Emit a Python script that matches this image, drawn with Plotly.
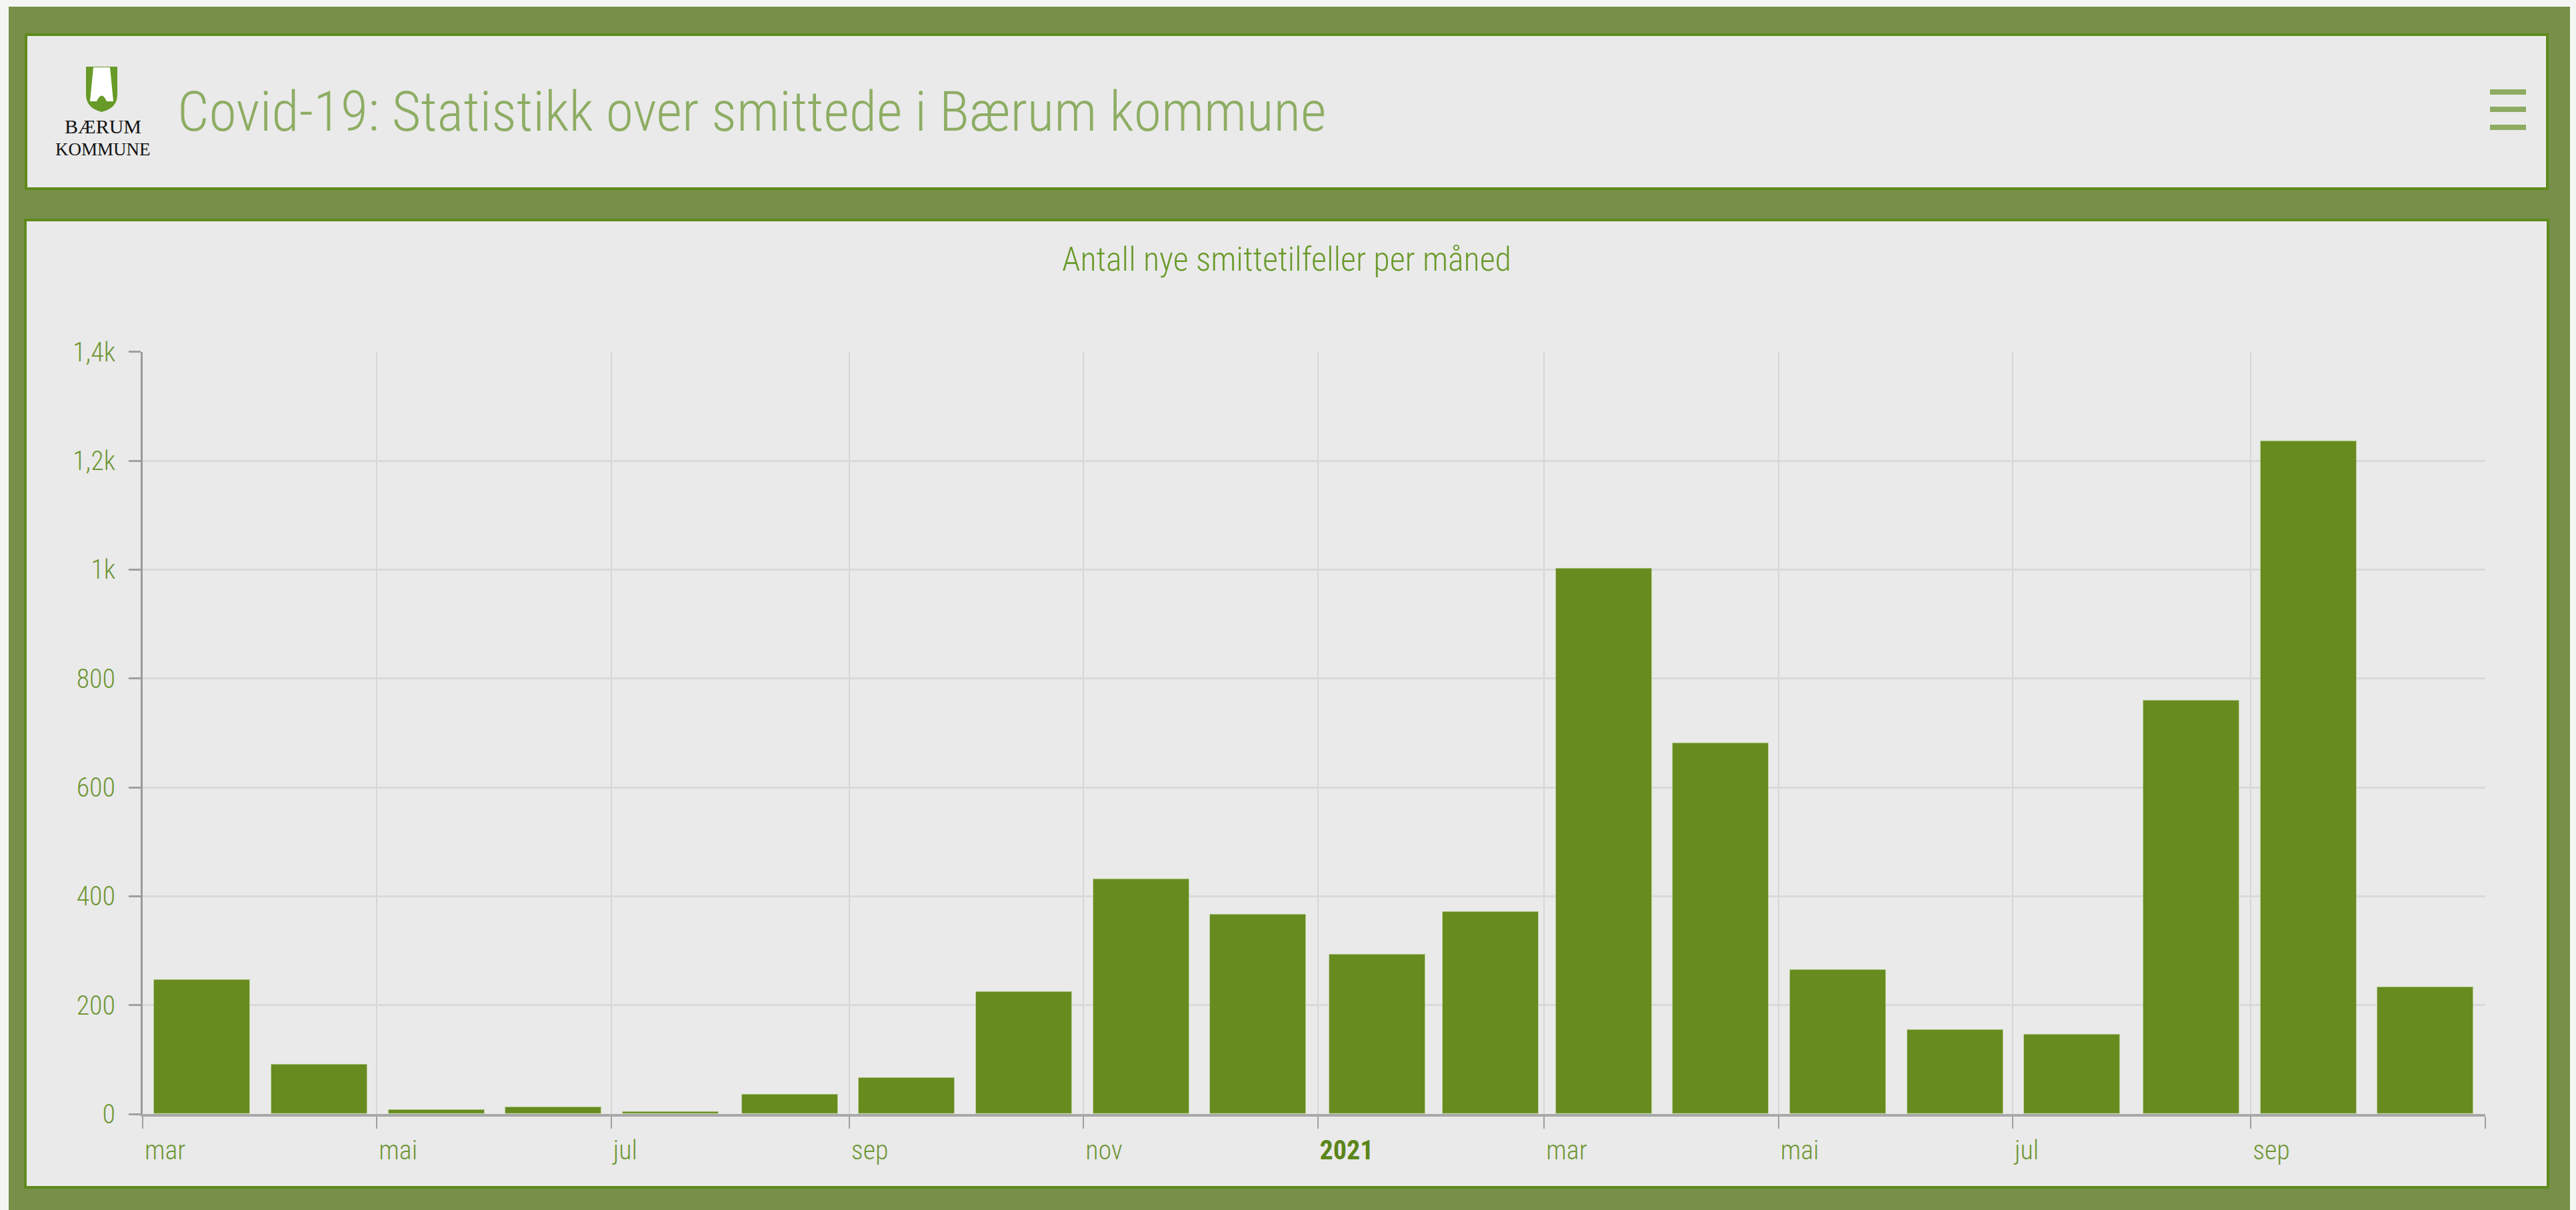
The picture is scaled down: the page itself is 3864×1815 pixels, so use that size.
import plotly.graph_objects as go

# ---------------- data ----------------
months = ["2020-03-01", "2020-04-01", "2020-05-01", "2020-06-01", "2020-07-01",
          "2020-08-01", "2020-09-01", "2020-10-01", "2020-11-01", "2020-12-01",
          "2021-01-01", "2021-02-01", "2021-03-01", "2021-04-01", "2021-05-01",
          "2021-06-01", "2021-07-01", "2021-08-01", "2021-09-01", "2021-10-01"]
cases = [247, 91, 8, 13, 4, 36, 67, 225, 431, 367, 293, 372, 1002, 681, 265,
         155, 146, 760, 1236, 233]

x_tickvals = ["2020-03-01", "2020-05-01", "2020-07-01", "2020-09-01", "2020-11-01",
              "2021-01-01", "2021-03-01", "2021-05-01", "2021-07-01", "2021-09-01",
              "2021-11-01"]
x_ticktext = ["mar", "mai", "jul", "sep", "nov",
              "<b><span style='color:#5b861a'>2021</span></b>",
              "mar", "mai", "jul", "sep", ""]
y_tickvals = [0, 200, 400, 600, 800, 1000, 1200, 1400]
y_ticktext = ["0", "200", "400", "600", "800", "1k", "1,2k", "1,4k"]

page_title = "Covid-19: Statistikk over smittede i Bærum kommune"
chart_title = "Antall nye smittetilfeller per måned"
logo_lines = ["BÆRUM", "KOMMUNE"]

# ---------------- geometry helpers ----------------
W, H = 3864, 1815


def px(x):
    return x / W


def py(y):
    return 1 - y / H


NARROW = "Roboto Condensed, Roboto, sans-serif"
FRAME = "#778f49"
BORDER = "#5f8a1c"
PANEL = "#eaeaea"
BAR = "#678b1f"
LABEL = "#6f9636"

fig = go.Figure()
fig.add_trace(go.Bar(
    x=months, y=cases,
    xperiod="M1", xperiodalignment="middle",
    width=25 * 86400000,
    marker=dict(color=BAR, line=dict(color="rgba(200,220,170,0.6)", width=1)),
    hoverinfo="x+y",
))

shapes = []
# outer green frame
shapes.append(dict(type="rect", xref="paper", yref="paper", layer="below",
                   x0=px(13), x1=px(3855), y0=py(1815), y1=py(10),
                   fillcolor=FRAME, line=dict(width=0)))
# header panel
shapes.append(dict(type="rect", xref="paper", yref="paper", layer="below",
                   x0=px(39), x1=px(3821), y0=py(283), y1=py(52),
                   fillcolor=PANEL, line=dict(color=BORDER, width=4)))
# chart panel
shapes.append(dict(type="rect", xref="paper", yref="paper", layer="below",
                   x0=px(38), x1=px(3822), y0=py(1781), y1=py(330),
                   fillcolor=PANEL, line=dict(color=BORDER, width=4)))

# logo shield (green) and inner white tower
green_shield = ("M {a},{b} L {c},{b} L {c},{d} Q {c},{e} {m},{f} Q {a},{e} {a},{d} Z"
                .format(a=px(129), c=px(176), b=py(100), d=py(142), e=py(162),
                        m=px(152.5), f=py(168)))
shapes.append(dict(type="path", xref="paper", yref="paper", path=green_shield,
                   fillcolor="#679a27", line=dict(width=0)))
white_tower = ("M {a},{t} L {b},{t} L {c},{u} L {d},{u} Q {m},{k} {e},{u} L {f},{u} Z"
               .format(a=px(140), b=px(165), t=py(101), c=px(170), u=py(152),
                       d=px(160), m=px(152.5), k=py(135), e=px(145), f=px(135)))
shapes.append(dict(type="path", xref="paper", yref="paper", path=white_tower,
                   fillcolor="#ffffff", line=dict(width=0)))

# hamburger icon
for yy in (138, 164, 191):
    shapes.append(dict(type="line", xref="paper", yref="paper",
                       x0=px(3735), x1=px(3789), y0=py(yy), y1=py(yy),
                       line=dict(color="#8fab62", width=8)))

annotations = [
    dict(text=page_title, xref="paper", yref="paper", x=px(264), y=py(167),
         xanchor="left", yanchor="middle", showarrow=False,
         font=dict(family=NARROW, size=84, weight=300, color="#8ead64")),
    dict(text=chart_title, xref="paper", yref="paper", x=px(1930), y=py(389),
         xanchor="center", yanchor="middle", showarrow=False,
         font=dict(family=NARROW, size=50, weight=300, color="#6b9a2c")),
    dict(text=logo_lines[0], xref="paper", yref="paper", x=px(154), y=py(190),
         xanchor="center", yanchor="middle", showarrow=False,
         font=dict(family="Liberation Serif, serif", size=30, color="#111111")),
    dict(text=logo_lines[1], xref="paper", yref="paper", x=px(154), y=py(224),
         xanchor="center", yanchor="middle", showarrow=False,
         font=dict(family="Liberation Serif, serif", size=27, color="#111111")),
]

fig.update_layout(
    width=W, height=H,
    margin=dict(l=0, r=0, t=0, b=0, pad=0),
    paper_bgcolor="#f4f6f4",
    plot_bgcolor="rgba(0,0,0,0)",
    showlegend=False,
    bargap=0,
    shapes=shapes,
    annotations=annotations,
    xaxis=dict(
        type="date",
        domain=[px(214), px(3727.5)],
        range=["2020-03-01", "2021-11-01"],
        tickmode="array", tickvals=x_tickvals, ticktext=x_ticktext,
        ticks="outside", ticklen=18, tickwidth=2, tickcolor="#a0a0a0",
        ticklabelposition="outside right", ticklabelstandoff=16,
        tickfont=dict(family=NARROW, size=40, weight=300, color=LABEL),
        showgrid=True, gridcolor="#d6d6d6", gridwidth=2,
        showline=True, linecolor="#a8a8a8", linewidth=4,
        zeroline=False, automargin=False, fixedrange=True,
    ),
    yaxis=dict(
        domain=[py(1671), py(527.7)],
        range=[0, 1400],
        tickmode="array", tickvals=y_tickvals, ticktext=y_ticktext,
        ticks="outside", ticklen=18, tickwidth=3, tickcolor="#a0a0a0",
        ticklabelstandoff=12,
        tickfont=dict(family=NARROW, size=40, weight=300, color=LABEL),
        showgrid=True, gridcolor="#d9d9d9", gridwidth=3,
        showline=True, linecolor="#9a9a9a", linewidth=3,
        zeroline=False, automargin=False, fixedrange=True,
    ),
)

fig.write_html("out.html", config={"displayModeBar": False},
               post_script="document.body.style.margin='0';document.body.style.overflow='hidden';")
